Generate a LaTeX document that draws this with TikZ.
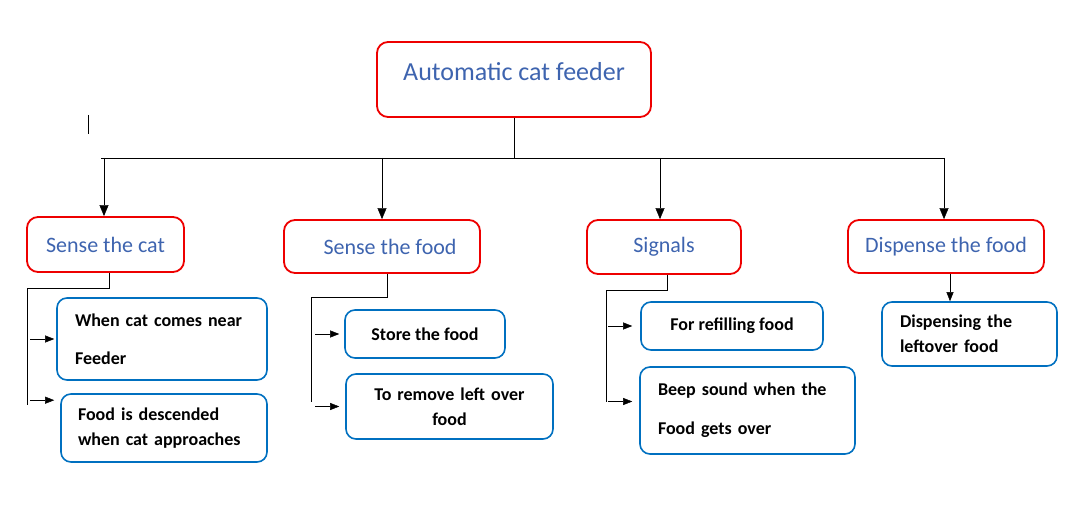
\documentclass[tikz,border=0pt]{standalone}
\usepackage{fontspec}
\setmainfont{Carlito}
\usetikzlibrary{arrows.meta,positioning}

\definecolor{boxred}{RGB}{238,0,0}
\definecolor{boxblue}{RGB}{0,112,192}
\definecolor{headblue}{RGB}{62,100,175}

\begin{document}
\begin{tikzpicture}
	[x=1pt,y=-1pt,
	 headbox/.style={rectangle, rounded corners=11pt, draw=boxred, line width=1.8pt, text=headblue, font=\fontsize{22}{26}\selectfont, inner sep=0pt},
	 leafbox/.style={rectangle, rounded corners=10pt, draw=boxblue, line width=1.6pt, font=\fontsize{18}{21.6}\selectfont\bfseries, inner ysep=0pt},
	 tip/.style={-{Triangle[length=11pt,width=9pt]}},
	 smalltip/.style={-{Triangle[length=9pt,width=7pt]}}]
	\useasboundingbox (0,0) rectangle (1067,510);

	\node[headbox, minimum width=274pt, text height=39pt, text depth=36pt, font=\fontsize{26}{30}\selectfont] (feeder) at (514,79.5) {Automatic cat feeder};

	\node[headbox, minimum width=157pt, minimum height=55pt] (scat) at (105.5,244.5) {Sense the cat};
	\node[headbox, minimum width=196pt, minimum height=53pt] (sfood) at (382,246.5) {\hspace{16pt}Sense the food};
	\node[headbox, minimum width=154pt, minimum height=54pt] (signals) at (664,247) {Signals};
	\node[headbox, minimum width=196pt, minimum height=53pt] (dfood) at (946,246.5) {Dispense the food};

	\node[leafbox, text width=174pt, inner xsep=18pt, minimum height=82pt, align=left] (near) at (162,339) {When cat comes near\\[16pt]Feeder};
	\node[leafbox, text width=172pt, inner xsep=17pt, minimum height=68pt, align=left] (desc) at (164,428) {Food is descended\\[3pt]when cat approaches};
	\node[leafbox, minimum width=160pt, minimum height=48pt] (store) at (425,334) {Store the food};
	\node[leafbox, text width=187pt, inner xsep=10pt, minimum height=65pt, align=center] (remove) at (449.5,406.5) {To remove left over\\[3pt]food};
	\node[leafbox, minimum width=182pt, minimum height=48pt] (refill) at (732,326) {For refilling food};
	\node[leafbox, text width=179pt, inner xsep=18pt, minimum height=87pt, align=left] (beep) at (747.5,410.5) {Beep sound when the\\[17pt]Food gets over};
	\node[leafbox, text width=139pt, inner xsep=18pt, minimum height=64pt, align=left] (leftover) at (969.5,334) {Dispensing the\\[3pt]leftover food};

	% bus under the title
	\coordinate (busl) at (101,158);
	\coordinate (busr) at (944,158);
	\draw (busl) -- (busr);
	\draw (feeder.south) -- (feeder.south |- busl);
	\draw[tip] ([xshift=-1.5pt]scat.north |- busl) -- ([xshift=-1.5pt]scat.north);
	\draw[tip] (sfood.north |- busl) -- (sfood.north);
	\draw[tip] ([xshift=-4pt]signals.north |- busl) -- ([xshift=-4pt]signals.north);
	\draw[tip] ([xshift=-2pt]dfood.north |- busl) -- ([xshift=-2pt]dfood.north);

	% sense the cat
	\coordinate (scatk) at (27,288);
	\coordinate (scate) at (27,405);
	\coordinate (descin) at ([yshift=-7pt]desc.north west);
	\draw ([xshift=3.5pt]scat.south) |- (scatk) -- (scate);
	\draw[smalltip] ([xshift=3pt]scatk |- near.west) -- ([xshift=-2pt]near.west);
	\draw[smalltip] ([xshift=3pt]scatk |- descin) -- ([xshift=-6pt]descin);

	% sense the food
	\coordinate (sfoodk) at (311,297);
	\coordinate (sfoode) at (311,402);
	\draw ([xshift=5pt]sfood.south) |- (sfoodk) -- (sfoode);
	\draw[smalltip] ([xshift=4pt]sfoodk |- store.west) -- ([xshift=-5pt]store.west);
	\draw[smalltip] ([xshift=4pt]sfoodk |- remove.west) -- ([xshift=-6pt]remove.west);

	% signals
	\coordinate (sigk) at (606,290);
	\coordinate (sige) at (606,402);
	\coordinate (beepin) at ([yshift=9pt]beep.west);
	\draw ([xshift=3pt]signals.south) |- (sigk) -- (sige);
	\draw[smalltip] ([xshift=2pt]sigk |- refill.west) -- ([xshift=-8pt]refill.west);
	\draw[smalltip] ([xshift=2pt]sigk |- beepin) -- ([xshift=-7pt]beepin);

	% dispense
	\draw[smalltip] ([xshift=4pt]dfood.south) -- ([xshift=-19.5pt]leftover.north);

	\draw (88,115) -- (88,134);
\end{tikzpicture}
\end{document}
